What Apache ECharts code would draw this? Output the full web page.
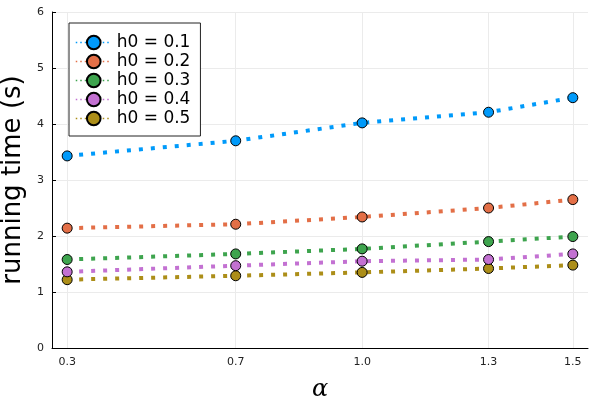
<!DOCTYPE html>
<html>
<head>
<meta charset="utf-8">
<script src="https://cdn.jsdelivr.net/npm/echarts@6/dist/echarts.min.js"></script>
<style>
  html, body { margin: 0; padding: 0; background: #fff; }
  #main { width: 600px; height: 400px; }
</style>
</head>
<body>
<div id="main"></div>
<script>
// alpha values on the x axis
var alphas = [0.3, 0.7, 1.0, 1.3, 1.5];
var xTicks = [0.3, 0.7, 1.0, 1.3, 1.5];
var yTicks = [0, 1, 2, 3, 4, 5, 6];

var names = ['h0 = 0.1', 'h0 = 0.2', 'h0 = 0.3', 'h0 = 0.4', 'h0 = 0.5'];
var colors = ['#009AFA', '#E36F47', '#3EA44E', '#C371D2', '#AC8E18'];

// running time (s) per h0
var h01 = [3.43, 3.70, 4.02, 4.21, 4.47];
var h02 = [2.14, 2.21, 2.34, 2.50, 2.65];
var h03 = [1.58, 1.68, 1.77, 1.90, 1.99];
var h04 = [1.36, 1.47, 1.55, 1.58, 1.68];
var h05 = [1.22, 1.29, 1.35, 1.42, 1.48];

var times = [h01, h02, h03, h04, h05];

var myChart = echarts.init(document.getElementById('main'));

var series = names.map(function (nm, i) {
    return {
        name: nm,
        type: 'line',
        data: alphas.map(function (a, j) { return [a, times[i][j]]; }),
        symbol: 'circle',
        symbolSize: 10,
        color: colors[i],
        lineStyle: { width: 4, type: [4, 8], color: colors[i] },
        itemStyle: { color: colors[i], borderColor: '#000', borderWidth: 1 },
        emphasis: { disabled: true },
        z: 10 - i
    };
});

// vertical grid lines at the custom x ticks
series.push({
    type: 'line',
    data: [],
    silent: true,
    z: 1,
    markLine: {
        silent: true,
        symbol: 'none',
        label: { show: false },
        lineStyle: { color: '#ebebeb', width: 1, type: 'solid' },
        data: xTicks.map(function (t) { return { xAxis: t }; })
    }
});

var option = {
    animation: false,
    grid: { left: 52, right: 12, top: 12, bottom: 52, outerBoundsMode: 'none' },
    legend: {
        orient: 'vertical',
        left: 69,
        top: 23,
        padding: [11, 10, 9, 6],
        itemGap: 2,
        itemWidth: 36,
        itemHeight: 17,
        borderColor: '#222',
        borderWidth: 1,
        backgroundColor: '#fff',
        lineStyle: { width: 1.5, type: [1.5, 3] },
        textStyle: { fontFamily: 'DejaVu Sans', fontSize: 17, color: '#000' },
        data: names
    },
    xAxis: {
        type: 'value',
        min: 0.264,
        max: 1.536,
        name: 'α',
        nameLocation: 'middle',
        nameGap: 30,
        nameTextStyle: { fontFamily: 'DejaVu Serif', fontStyle: 'italic', fontSize: 24, color: '#000' },
        axisLine: { lineStyle: { color: '#000', width: 1 } },
        axisTick: { inside: true, length: 4, customValues: xTicks, lineStyle: { color: '#000' } },
        axisLabel: {
            customValues: xTicks,
            fontFamily: 'DejaVu Sans', fontSize: 11, color: '#222', margin: 9,
            formatter: function (v) { return v.toFixed(1); }
        },
        splitLine: { show: false }
    },
    yAxis: {
        type: 'value',
        min: 0,
        max: 6,
        interval: 1,
        name: 'running time (s)',
        nameLocation: 'middle',
        nameGap: 22,
        nameTextStyle: { fontFamily: 'DejaVu Sans', fontSize: 26, color: '#000' },
        axisLine: { show: true, lineStyle: { color: '#000', width: 1 } },
        axisTick: { show: true, inside: true, length: 4, lineStyle: { color: '#000' } },
        axisLabel: { fontFamily: 'DejaVu Sans', fontSize: 11, color: '#222', margin: 8 },
        splitLine: { show: true, lineStyle: { color: '#ebebeb', width: 1 } }
    },
    series: series
};

myChart.setOption(option);
</script>
</body>
</html>
